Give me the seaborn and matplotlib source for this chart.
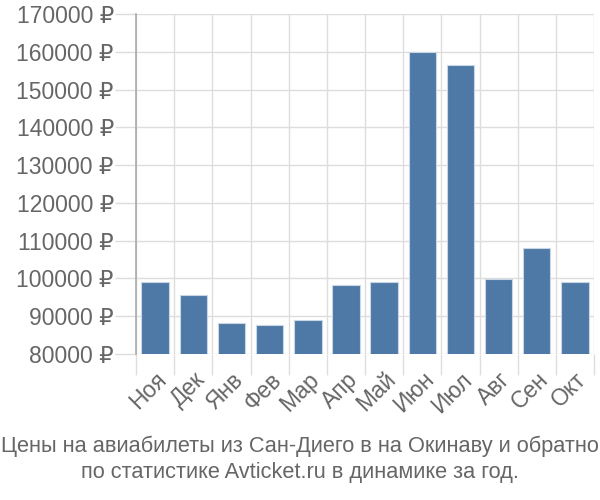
import numpy as np
import pandas as pd
import matplotlib
matplotlib.use("Agg")
import matplotlib.pyplot as plt
import seaborn as sns

# -----------------------------------------------------
# Data
# -----------------------------------------------------
months = ["Ноя", "Дек", "Янв", "Фев", "Мар", "Апр", "Май", "Июн", "Июл", "Авг", "Сен", "Окт"]
prices = [99050, 95600, 88200, 87800, 88900, 98300, 99050, 160000, 156500, 99900, 108000, 99050]
y_ticks = [80000, 90000, 100000, 110000, 120000, 130000, 140000, 150000, 160000, 170000]
caption = "Цены на авиабилеты из Сан-Диего в на Окинаву и обратно\nпо статистике Avticket.ru в динамике за год."

df = pd.DataFrame({"month": months, "price": prices})

# -----------------------------------------------------
# Style
# -----------------------------------------------------
sns.set_theme(style="white")
plt.rcParams['font.family'] = ['Liberation Sans', 'DejaVu Sans']
text_col = "#666666"
grid_col = "#dddddd"

fig = plt.figure(figsize=(6, 5), dpi=100)
ax = fig.add_axes([0.2267, 0.292, 0.7633, 0.68])

sns.barplot(data=df, x="month", y="price", color="#4e79a7", saturation=1,
            width=0.72, edgecolor="#c9d6e6", linewidth=0.8, ax=ax, zorder=3)

ax.set_ylim(y_ticks[0], y_ticks[-1])
ax.set_xlim(-0.5, len(months) - 0.5)
ax.set_yticks(y_ticks)
ax.set_yticklabels([f"{v} ₽" for v in y_ticks], fontsize=16.5, color=text_col)
ax.set_xticks(range(len(months)))
ax.set_xticklabels(months, rotation=45, ha="right", rotation_mode="anchor",
                   fontsize=16.5, color=text_col)
ax.set_xticks(np.arange(-0.5, len(months)), minor=True)

ax.tick_params(axis="y", which="major", length=15, width=1, color=grid_col, pad=1, left=True)
ax.tick_params(axis="x", which="major", length=0, pad=10)
ax.tick_params(axis="x", which="minor", length=15, width=1, color=grid_col, bottom=True)

ax.grid(True, axis="y", which="major", color=grid_col, linewidth=1, zorder=0)
ax.grid(True, axis="x", which="minor", color=grid_col, linewidth=1, zorder=0)
ax.set_axisbelow(True)

for side in ["top", "right", "bottom"]:
    ax.spines[side].set_visible(False)
ax.spines["left"].set_color("#aaaaaa")
ax.spines["left"].set_linewidth(1.2)

ax.set_xlabel("")
ax.set_ylabel("")

fig.text(0.5, 0.128, caption, ha="center", va="top", fontsize=15.7,
         color=text_col, linespacing=1.3)

fig.savefig("out.png", dpi=100)
